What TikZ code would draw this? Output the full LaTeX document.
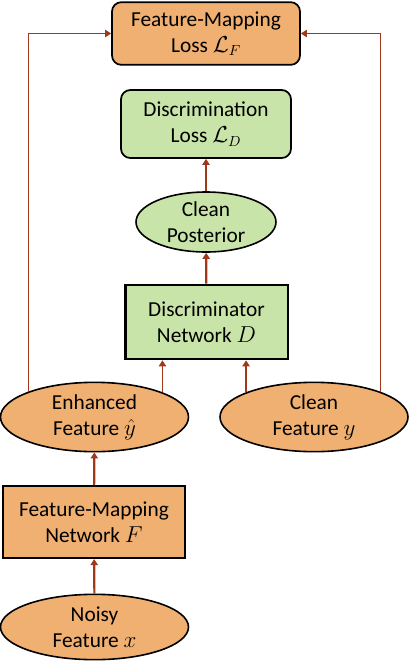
\documentclass[tikz,border=0pt]{standalone}
\usepackage{fontspec}
\setmainfont{Carlito}
\usetikzlibrary{arrows.meta,shapes.geometric}
\definecolor{lossorange}{HTML}{EFB072}
\definecolor{discgreen}{HTML}{C8E4A8}
\definecolor{flowred}{HTML}{A0381A}
\newcommand{\FlowTip}{Triangle[length=4.5,width=5.5]}
\tikzset{->-/.style={draw=flowred,line width=1.6pt,-{\FlowTip}}}
\tikzset{->fb/.style={draw=flowred,line width=1pt,-{\FlowTip}}}
\tikzset{lossbox/.style={draw,rounded corners=7pt,line width=1.3pt,inner sep=0pt,align=center}}
\tikzset{netbox/.style={draw,line width=2pt,inner sep=0pt,align=center}}
\tikzset{featell/.style={draw,ellipse,line width=1.2pt,inner sep=0pt,align=center}}

\begin{document}
\begin{tikzpicture}[x=0.75pt,y=-0.75pt,font=\fontsize{16}{19.5}\selectfont]
\useasboundingbox(0,0)rectangle(410,662);
\begin{scope}[fill=lossorange]
\node(fml)[lossbox,fill=lossorange,minimum width=141pt,minimum height=47pt]at(206,33.5){Feature-Mapping\\Loss $\mathcal{L}_F$};
\node(enh)[featell,fill=lossorange,minimum width=141pt,minimum height=52pt]at(94.5,417){Enhanced\\Feature $\hat{y}$};
\node(cln)[featell,fill=lossorange,minimum width=141pt,minimum height=52pt]at(314,417){Clean\\Feature $y$};
\node(fmn)[netbox,line width=1.6pt,fill=lossorange,minimum width=136.5pt,minimum height=54pt]at(94,522){Feature-Mapping\\Network $F$};
\node(noi)[featell,fill=lossorange,minimum width=141pt,minimum height=49pt]at(94.5,627){Noisy\\Feature $x$};
\end{scope}
\node(dl)[lossbox,fill=discgreen,minimum width=127.5pt,minimum height=51pt]at(206,124){Discrimination\\Loss $\mathcal{L}_D$};
\node(pst)[featell,fill=discgreen,minimum width=105pt,minimum height=45pt]at(206,222){Clean\\Posterior};
\node(dis)[netbox,fill=discgreen,minimum width=122pt,minimum height=55.5pt]at(206.5,322){Discriminator\\Network $D$};
% main flow
\draw[->-](noi)--(fmn);\draw[->-](fmn)--(enh);
\draw[->-](dis)--(pst);\draw[->-](pst)--(dl);
\draw[->fb](enh.20)--(enh.20|-dis.south);\draw[->-](cln.160)--(cln.160|-dis.south);
% feature-mapping loss feedback
\draw[->fb](enh.159)|-(fml);\draw[->fb](cln.21)|-(fml);
\end{tikzpicture}
\end{document}
